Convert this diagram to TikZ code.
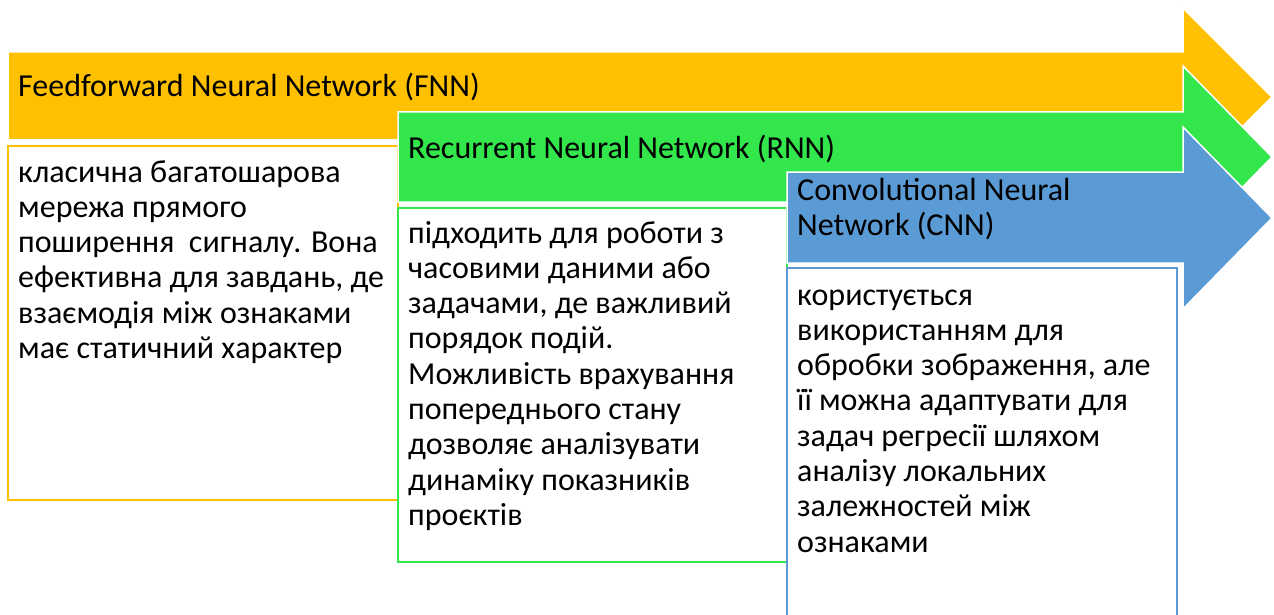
\documentclass[tikz,border=0pt]{standalone}
\usepackage{fontspec}
\setmainfont{Carlito}
\definecolor{fnnc}{RGB}{255,192,0}
\definecolor{rnnc}{RGB}{50,230,75}
\definecolor{cnnc}{RGB}{91,155,213}
\tikzset{
  arrowshape/.style={fill=#1, draw=white, line width=1.5pt, line join=miter},
  boxshape/.style={fill=white, draw=#1, line width=2pt},
  titletext/.style={anchor=base west, inner sep=0pt, font=\fontsize{32}{35.3}\selectfont},
  bodytext/.style={anchor=base west, inner sep=0pt, font=\fontsize{32}{35.3}\selectfont},
}
\begin{document}
\begin{tikzpicture}[x=1pt,y=-1pt]
\useasboundingbox (0,0) rectangle (1274,615);
\clip (0,0) rectangle (1274,615);
% FNN
\draw[arrowshape=fnnc] (8,52) -- (1183,52) -- (1183,8) -- (1272,97) -- (1183,186) -- (1183,140) -- (8,140) -- cycle;
\draw[boxshape=fnnc] (8,146) rectangle (398,500);
\node[titletext] (fnnt) at (18,97) {Feedforward Neural Network (FNN)};
\node[bodytext] (fnnb) at (18,182) {\vtop{\hbox{класична багатошарова}\hbox{мережа прямого}\hbox{поширення\ \ сигналу. Вона}\hbox{ефективна для завдань, де}\hbox{взаємодія між ознаками}\hbox{має статичний характер}}};
% RNN
\draw[arrowshape=rnnc] (398,112) -- (1183,112) -- (1183,66) -- (1272,157) -- (1183,248) -- (1183,202) -- (398,202) -- cycle;
\draw[boxshape=rnnc] (398,208) rectangle (787,562);
\node[titletext] (rnnt) at (408,158) {Recurrent Neural Network (RNN)};
\node[bodytext] (rnnb) at (408,243) {\vtop{\hbox{підходить для роботи з}\hbox{часовими даними або}\hbox{задачами, де важливий}\hbox{порядок подій.}\hbox{Можливість врахування}\hbox{попереднього стану}\hbox{дозволяє аналізувати}\hbox{динаміку показників}\hbox{проєктів}}};
% CNN
\draw[arrowshape=cnnc] (787,172) -- (1183,172) -- (1183,127) -- (1272,218) -- (1183,309) -- (1183,263) -- (787,263) -- cycle;
\draw[boxshape=cnnc] (787,268) rectangle (1177,630);
\node[titletext] (cnnt) at (797,200) {\vtop{\hbox{Convolutional Neural}\hbox{Network (CNN)}}};
\node[bodytext] (cnnb) at (797,305) {\vtop{\hbox{користується}\hbox{використанням для}\hbox{обробки зображення, але}\hbox{її можна адаптувати для}\hbox{задач регресії шляхом}\hbox{аналізу локальних}\hbox{залежностей між}\hbox{ознаками}}};
\end{tikzpicture}
\end{document}
